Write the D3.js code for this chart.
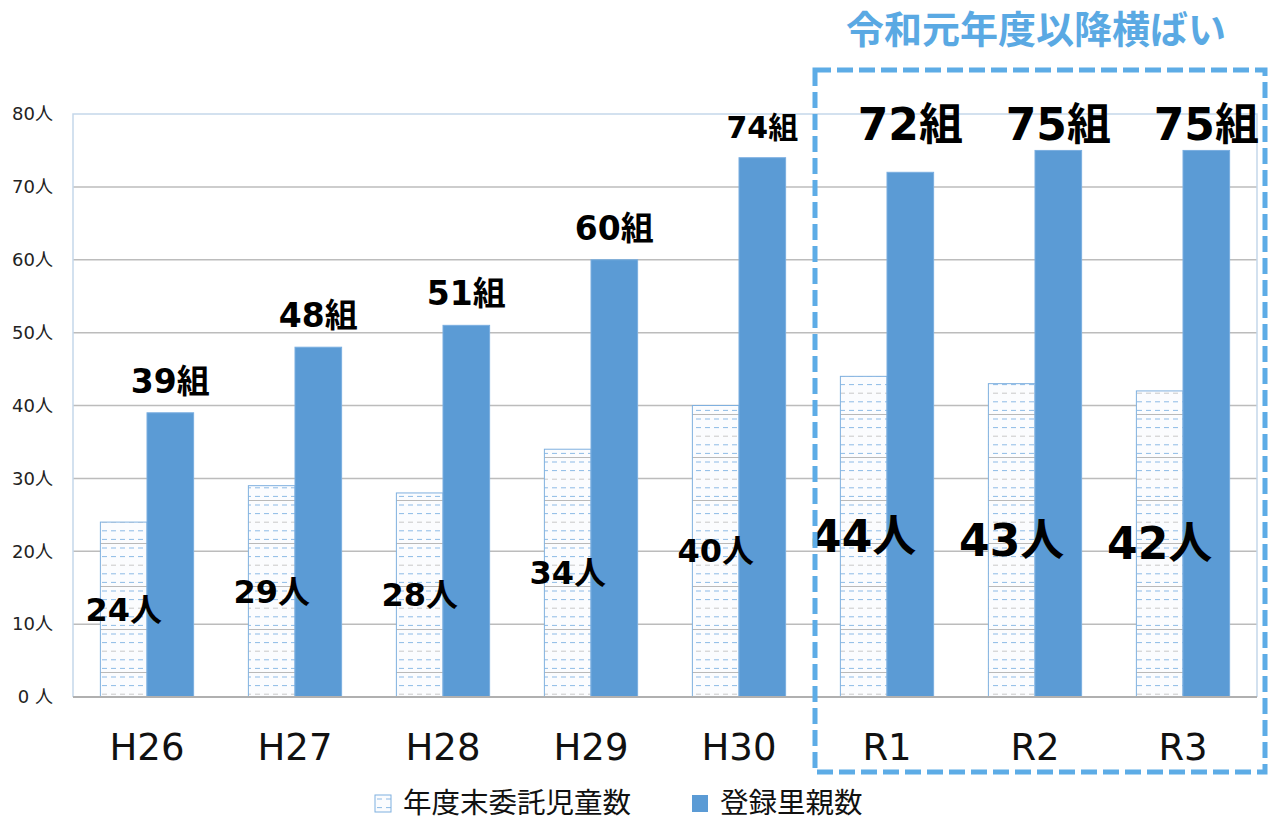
<!DOCTYPE html>
<html>
<head>
<meta charset="utf-8">
<script src="https://cdn.jsdelivr.net/npm/d3@7"></script>
<style>
  body { margin: 0; background: #fff; }
  text { font-family: "DejaVu Sans", "Noto Sans CJK JP", sans-serif; }
</style>
</head>
<body>
<div id="chart"></div>
<script>
// data
const categories = ["H26", "H27", "H28", "H29", "H30", "R1", "R2", "R3"];
const children = [24, 29, 28, 34, 40, 44, 43, 42];   // 年度末委託児童数
const parents = [39, 48, 51, 60, 74, 72, 75, 75];    // 登録里親数
const yTicks = [0, 10, 20, 30, 40, 50, 60, 70, 80];
const yTickLabels = ["0 人", "10人", "20人", "30人", "40人", "50人", "60人", "70人", "80人"];
const seriesNames = ["年度末委託児童数", "登録里親数"];
const highlightFrom = "R1";
const highlightTitle = "令和元年度以降横ばい";

const W = 1268, H = 820;
const margin = { top: 114, right: 11, bottom: 123, left: 73 };
const width = W - margin.left - margin.right,
  height = H - margin.top - margin.bottom;

const svg = d3.select("#chart").append("svg")
  .attr("width", W).attr("height", H);

// hatched pattern
const defs = svg.append("defs");
const pat = defs.append("pattern")
  .attr("id", "hatch").attr("patternUnits", "userSpaceOnUse")
  .attr("width", 9).attr("height", 43);
pat.append("rect").attr("width", 9).attr("height", 43).attr("fill", "#fbfcfe");
for (let i = 0; i < 5; i++) {
  pat.append("line")
    .attr("x1", 2).attr("x2", 7)
    .attr("y1", 4 + i * 8.6).attr("y2", 4 + i * 8.6)
    .attr("stroke", i === 2 ? "#c9c9c9" : "#8dbbe6").attr("stroke-width", 1);
}
pat.append("line").attr("x1", 0).attr("x2", 9).attr("y1", 42.5).attr("y2", 42.5)
  .attr("stroke", "#b9b9b9").attr("stroke-width", 1);

const g = svg.append("g").attr("transform", `translate(${margin.left},${margin.top})`);

const x = d3.scaleBand().domain(categories).range([0, width])
  .paddingInner(0.37).paddingOuter(0.185);
const y = d3.scaleLinear().domain([0, 80]).range([height, 0]);
const bw = x.bandwidth() / 2;

// grid
g.selectAll(".grid").data(yTicks.slice(1, -1)).join("line")
  .attr("x1", 0).attr("x2", width)
  .attr("y1", d => y(d)).attr("y2", d => y(d))
  .attr("stroke", "#bcbcbc").attr("stroke-width", 1.5);

// plot frame (left, top, right)
g.append("path")
  .attr("d", `M0,${height}V0H${width}V${height}`)
  .attr("fill", "none").attr("stroke", "#c5d7ea").attr("stroke-width", 1.5);

// y tick labels
g.selectAll(".ylab").data(yTicks).join("text")
  .attr("x", -20).attr("y", d => y(d)).attr("dy", "0.35em")
  .attr("text-anchor", "end").attr("font-size", 18).attr("fill", "#222")
  .text((d, i) => yTickLabels[i]);

// bars
g.selectAll(".bar1").data(children).join("rect")
  .attr("x", (d, i) => x(categories[i]))
  .attr("y", d => y(d)).attr("width", bw).attr("height", d => height - y(d))
  .attr("fill", "url(#hatch)").attr("stroke", "#7fb0df").attr("stroke-width", 1);

g.selectAll(".bar2").data(parents).join("rect")
  .attr("x", (d, i) => x(categories[i]) + bw)
  .attr("y", d => y(d)).attr("width", bw).attr("height", d => height - y(d))
  .attr("fill", "#5b9bd5").attr("stroke", "#7aaee0").attr("stroke-width", 1);

// baseline
g.append("line").attr("x1", 0).attr("x2", width).attr("y1", height).attr("y2", height)
  .attr("stroke", "#b0b0b0").attr("stroke-width", 2);

// x labels
g.selectAll(".xlab").data(categories).join("text")
  .attr("x", d => x(d) + x.bandwidth() / 2).attr("y", height + 63)
  .attr("text-anchor", "middle").attr("font-size", 37).attr("fill", "#111")
  .text(d => d);

const hiIndex = categories.indexOf(highlightFrom);
const hiTop = d3.max(parents.slice(hiIndex));

// data labels - children
g.selectAll(".lab1").data(children).join("text")
  .attr("x", (d, i) => x(categories[i]) + bw / 2)
  .attr("y", d => y(d / 2)).attr("dy", "0.35em")
  .attr("text-anchor", "middle").attr("font-weight", "bold")
  .attr("font-size", (d, i) => i >= hiIndex ? 44 : 32)
  .attr("fill", "#000")
  .text(d => d + "人");

// data labels - parents
g.selectAll(".lab2").data(parents).join("text")
  .attr("x", (d, i) => x(categories[i]) + bw * 1.5)
  .attr("y", (d, i) => i >= hiIndex ? y(hiTop) - 10 : y(d) - 20)
  .attr("text-anchor", "middle").attr("font-weight", "bold")
  .attr("font-size", (d, i) => i >= hiIndex ? 44 : (i === hiIndex - 1 ? 30 : 33))
  .attr("fill", "#000")
  .text(d => d + "組");

// highlight box
const bx = x(highlightFrom) - (x.step() - x.bandwidth()) / 2 + 2;
svg.append("rect")
  .attr("x", margin.left + bx).attr("y", 70)
  .attr("width", W - 3 - (margin.left + bx)).attr("height", 702)
  .attr("fill", "none").attr("stroke", "#5dace6").attr("stroke-width", 5)
  .attr("stroke-dasharray", "16,6");

svg.append("text")
  .attr("x", (margin.left + bx + W - 3) / 2 - 4).attr("y", 43)
  .attr("text-anchor", "middle").attr("font-weight", "bold")
  .attr("font-size", 38).attr("fill", "#5aa9e3")
  .style("font-family", "'Noto Sans CJK JP', sans-serif")
  .text(highlightTitle);

// legend
const legend = svg.append("g").attr("transform", "translate(375,795)");
legend.append("rect").attr("x", 0).attr("y", 0).attr("width", 16).attr("height", 17)
  .attr("fill", "url(#hatch)").attr("stroke", "#7fb0df");
legend.append("text").attr("x", 28).attr("y", 8).attr("dy", "0.35em")
  .attr("font-size", 28.5).attr("fill", "#111")
  .style("font-family", "'Noto Sans CJK JP', sans-serif")
  .text(seriesNames[0]);
legend.append("rect").attr("x", 317).attr("y", 0).attr("width", 16).attr("height", 17)
  .attr("fill", "#5b9bd5");
legend.append("text").attr("x", 345).attr("y", 8).attr("dy", "0.35em")
  .attr("font-size", 28.5).attr("fill", "#111")
  .style("font-family", "'Noto Sans CJK JP', sans-serif")
  .text(seriesNames[1]);
</script>
</body>
</html>
